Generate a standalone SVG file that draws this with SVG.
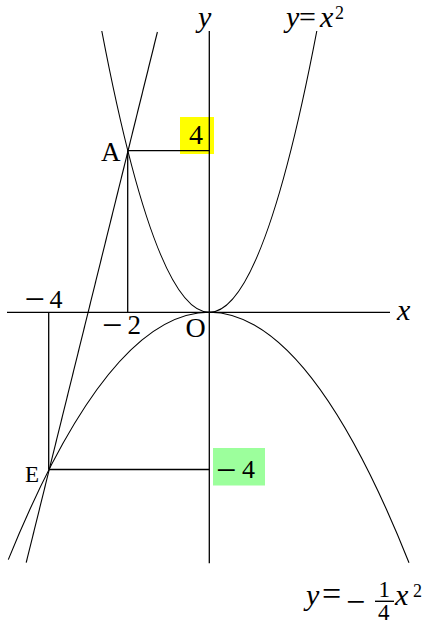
<svg xmlns="http://www.w3.org/2000/svg" width="448" height="625" viewBox="0 0 448 625">
<style>
.ax{stroke:#000;stroke-width:1.3;fill:none}
.cv{stroke:#000;stroke-width:1.1;fill:none}
.gl{stroke:#000;stroke-width:1.3;fill:none}
text{font-family:"Liberation Serif","Times New Roman",serif;fill:#000}
.it{font-style:italic}
</style>
<rect width="448" height="625" fill="#fff"/>
<g id="boxes">
<rect id="box-yellow" x="180" y="117" width="34" height="37" fill="#ffff00"/>
<rect id="box-green" x="213" y="448" width="52" height="37.5" fill="#9cff9c"/>
</g>
<g id="axes">
<line class="ax" x1="7" y1="312.3" x2="390" y2="312.3"/>
<line class="ax" x1="209.3" y1="31" x2="209.3" y2="563.3"/>
</g>
<g id="connectors">
<path id="parabola-up" class="cv" d="M101.8 31 Q209.3 593.6 316.8 31"/>
<path id="parabola-down" class="cv" d="M8.3 559.6 Q108.8 312.3 209.3 312.3 Q309.15 312.3 409 562.7"/>
<line id="line-AE" class="cv" x1="157.4" y1="32" x2="26.2" y2="562.7"/>
<line class="gl" x1="127.7" y1="150.7" x2="127.7" y2="312.3"/>
<line class="gl" x1="127.7" y1="150.7" x2="209.3" y2="150.7"/>
<line class="gl" x1="48.7" y1="312.3" x2="48.7" y2="469.5"/>
<line class="gl" x1="48.7" y1="469.5" x2="209.3" y2="469.5"/>
</g>
<g id="label-y-axis"><text class="it" x="198" y="27" font-size="30">y</text></g>
<g id="label-x-axis"><text class="it" x="397" y="320" font-size="30">x</text></g>
<g id="label-upper"><text font-size="30"><tspan class="it" x="286" y="27">y</tspan><tspan x="299" y="27" font-size="30">=</tspan><tspan class="it" x="320" y="27">x</tspan><tspan x="335" y="19" font-size="18">2</tspan></text></g>
<g id="node-A"><text x="101" y="161" font-size="27">A</text></g>
<g id="label-4"><text x="189" y="144.3" font-size="28">4</text></g>
<g id="label-m4-x"><text font-size="26"><tspan x="24.5" y="311" font-size="36">−</tspan><tspan x="49.5" y="308.3">4</tspan></text></g>
<g id="label-m2"><text font-size="27"><tspan x="102" y="337" font-size="36">−</tspan><tspan x="127.5" y="334.3">2</tspan></text></g>
<g id="node-O"><text x="185.5" y="336.5" font-size="28">O</text></g>
<g id="node-E"><text x="25" y="481.7" font-size="23">E</text></g>
<g id="label-m4-y"><text font-size="26"><tspan x="216" y="481.5" font-size="36">−</tspan><tspan x="242" y="477.7">4</tspan></text></g>
<g id="label-lower"><text font-size="30"><tspan class="it" x="306" y="605">y</tspan><tspan x="322" y="605" font-size="34">=</tspan><tspan x="346" y="613" font-size="34">−</tspan><tspan x="378.5" y="596.5" font-size="23">1</tspan><tspan x="378" y="620" font-size="23">4</tspan><tspan class="it" x="395" y="605">x</tspan><tspan x="413" y="596.7" font-size="18">2</tspan></text>
<line x1="375" y1="601.3" x2="394" y2="601.3" stroke="#000" stroke-width="1.4"/></g>
</svg>
